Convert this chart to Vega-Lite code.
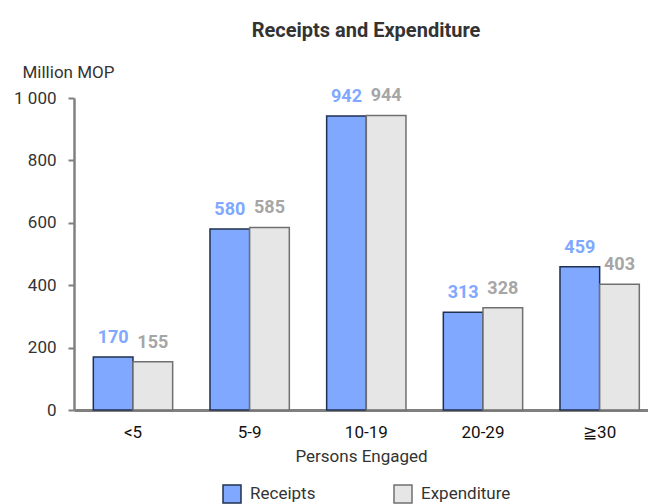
{
  "$schema": "https://vega.github.io/schema/vega-lite/v6.json",
  "autosize": "none",
  "width": 574,
  "height": 312,
  "padding": {"left": 74, "top": 98, "right": 0, "bottom": 94},
  "background": "white",
  "title": {
    "text": "Receipts and Expenditure",
    "font": "Roboto",
    "fontSize": 20,
    "fontWeight": "bold",
    "color": "#333333",
    "anchor": "middle",
    "dx": 5,
    "offset": 22
  },
  "config": {
    "view": {"stroke": null},
    "font": "Roboto"
  },
  "data": {
    "values": [
      {"size": "<5", "type": "Receipts", "value": 170},
      {"size": "<5", "type": "Expenditure", "value": 155},
      {"size": "5-9", "type": "Receipts", "value": 580},
      {"size": "5-9", "type": "Expenditure", "value": 585},
      {"size": "10-19", "type": "Receipts", "value": 942},
      {"size": "10-19", "type": "Expenditure", "value": 944},
      {"size": "20-29", "type": "Receipts", "value": 313},
      {"size": "20-29", "type": "Expenditure", "value": 328},
      {"size": "≧30", "type": "Receipts", "value": 459},
      {"size": "≧30", "type": "Expenditure", "value": 403}
    ]
  },
  "encoding": {
    "x": {
      "field": "size",
      "type": "nominal",
      "sort": ["<5", "5-9", "10-19", "20-29", "≧30"],
      "scale": {"paddingInner": 0.32, "paddingOuter": 0.12, "align": 0.69},
      "axis": {
        "title": "Persons Engaged",
        "labelAngle": 0,
        "labelFontSize": 17,
        "labelColor": "#111111",
        "labelPadding": 14,
        "ticks": false,
        "domainColor": "#808080",
        "domainWidth": 3,
        "titleFontSize": 17,
        "titleFontWeight": "normal",
        "titleColor": "#333333",
        "titlePadding": 8
      }
    },
    "xOffset": {
      "field": "type",
      "type": "nominal",
      "sort": ["Receipts", "Expenditure"]
    },
    "y": {
      "field": "value",
      "type": "quantitative",
      "scale": {"domain": [0, 1000]},
      "axis": {
        "title": "Million MOP",
        "titleAngle": 0,
        "titleAlign": "left",
        "titleBaseline": "alphabetic",
        "titleX": -52,
        "titleY": -21,
        "titleFontSize": 17,
        "titleFontWeight": "normal",
        "titleColor": "#333333",
        "values": [0, 200, 400, 600, 800, 1000],
        "labelExpr": "replace(format(datum.value, ','), ',', ' ')",
        "labelFontSize": 17,
        "labelColor": "#333333",
        "labelPadding": 12,
        "tickSize": 6,
        "tickColor": "#808080",
        "tickWidth": 2,
        "domainColor": "#808080",
        "domainWidth": 2.5,
        "grid": false
      }
    }
  },
  "layer": [
    {
      "mark": {"type": "bar", "strokeWidth": 1.5},
      "encoding": {
        "color": {
          "field": "type",
          "type": "nominal",
          "sort": ["Receipts", "Expenditure"],
          "scale": {"domain": ["Receipts", "Expenditure"], "range": ["#80A8FF", "#E6E6E6"]},
          "legend": {
            "title": null,
            "orient": "none",
            "legendX": 148,
            "legendY": 386,
            "direction": "horizontal",
            "symbolType": "square",
            "symbolSize": 324,
            "symbolStrokeWidth": 1.5,
            "symbolStrokeColor": "#505050",
            "labelFontSize": 17,
            "labelColor": "#333333",
            "labelLimit": 200,
            "columnPadding": 75,
            "labelOffset": 8
          }
        },
        "stroke": {
          "field": "type",
          "type": "nominal",
          "scale": {"domain": ["Receipts", "Expenditure"], "range": ["#1F3050", "#707070"]},
          "legend": null
        }
      }
    },
    {
      "mark": {"type": "text", "baseline": "bottom", "dy": -10, "fontSize": 18, "fontWeight": "bold"},
      "encoding": {
        "text": {"field": "value", "type": "quantitative"},
        "color": {
          "condition": {"test": "datum.type === 'Receipts'", "value": "#80A8FF"},
          "value": "#A6A6A6"
        }
      }
    }
  ]
}
